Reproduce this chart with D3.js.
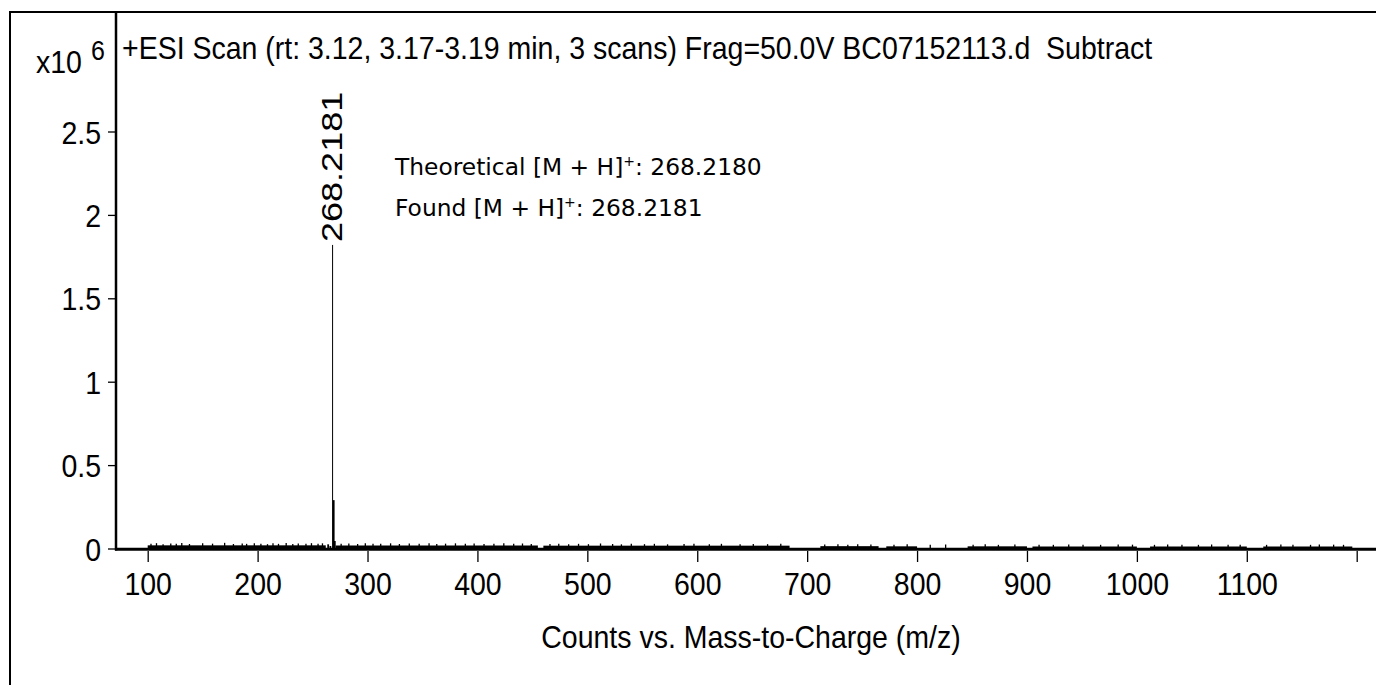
<!DOCTYPE html>
<html>
<head>
<meta charset="utf-8">
<script src="https://cdn.jsdelivr.net/npm/d3@7"></script>
<style>
html,body{margin:0;padding:0;background:#fff;}
svg{display:block;}
</style>
</head>
<body>
<svg id="chart" width="1376" height="685"></svg>
<script>
// ---------------- data ----------------
const titleText = "+ESI Scan (rt: 3.12, 3.17-3.19 min, 3 scans) Frag=50.0V BC07152113.d  Subtract";
const xAxisTitle = "Counts vs. Mass-to-Charge (m/z)";
const yScaleLabel = "x10";
const yScaleExp = "6";
const xTicks = [100, 200, 300, 400, 500, 600, 700, 800, 900, 1000, 1100, 1200];
const yTicks = [0, 0.5, 1, 1.5, 2, 2.5];
// main peaks: m/z, counts (x10^6)
const peakMz = [264.2, 266.2, 268.2181, 269.2215, 270.2248];
const peakInt = [0.025, 0.015, 1.82, 0.29, 0.045];
const peakLabel = "268.2181";
const annotLines = [
  {pre: "Theoretical [M + H]", post: ": 268.2180"},
  {pre: "Found [M + H]", post: ": 268.2181"}
];
// noise floor bands: start m/z, end m/z, level (x10^6)
const noiseBandStart = [100, 271, 460, 712, 772, 846, 905, 1012, 1115];
const noiseBandEnd   = [262, 455, 684, 765, 800, 900, 1000, 1100, 1196];
const noiseBandLevel = [0.019, 0.018, 0.017, 0.014, 0.013, 0.013, 0.012, 0.012, 0.012];
// noise spikes: m/z, counts (x10^6)
const spikeMz = [103, 108, 114, 121, 126, 131, 138, 150, 159, 170, 178, 186, 190, 197, 203, 209, 214, 219, 226, 232, 237, 244, 249, 255, 259,
  276, 283, 291, 298, 305, 312, 321, 329, 338, 347, 356, 363, 371, 380, 389, 397, 406, 415, 424, 433, 441, 449,
  466, 474, 483, 492, 501, 512, 523, 531, 540, 552, 561, 573, 588, 597, 611, 622, 639, 651, 664, 676,
  716, 728, 737, 746, 758, 779, 791, 812, 826, 851, 862, 874, 889, 911, 924, 938, 951, 967, 983, 996,
  1016, 1028, 1041, 1056, 1068, 1083, 1094, 1118, 1131, 1142, 1158, 1166, 1179, 1188];
const spikeInt = [0.028, 0.032, 0.026, 0.03, 0.028, 0.033, 0.027, 0.031, 0.029, 0.034, 0.027, 0.03, 0.028, 0.032, 0.029, 0.026, 0.031, 0.028, 0.033, 0.027, 0.03, 0.028, 0.032, 0.029, 0.031,
  0.028, 0.03, 0.027, 0.032, 0.028, 0.029, 0.031, 0.027, 0.03, 0.028, 0.032, 0.027, 0.029, 0.031, 0.028, 0.03, 0.027, 0.029, 0.032, 0.028, 0.03, 0.027,
  0.027, 0.029, 0.025, 0.028, 0.026, 0.03, 0.027, 0.025, 0.029, 0.026, 0.028, 0.025, 0.027, 0.029, 0.026, 0.028, 0.025, 0.027, 0.026, 0.028,
  0.024, 0.026, 0.023, 0.025, 0.024, 0.023, 0.025, 0.022, 0.024, 0.023, 0.025, 0.022, 0.024, 0.023, 0.022, 0.024, 0.023, 0.022, 0.024, 0.023,
  0.022, 0.024, 0.023, 0.022, 0.024, 0.022, 0.023, 0.022, 0.024, 0.023, 0.022, 0.024, 0.023, 0.022];

// ---------------- layout ----------------
const W = 1376, H = 685;
const plotLeft = 116, plotTop = 12, plotRight = 1380;
const y0 = 548.5, yTop = 131.5;           // pixel of 0 and 2.5
const xA = 147.7, xB = 1356.7;            // pixel of 100 and 1200
const SY = 1.13;                           // vertical stretch of the glyphs
const FS = 28.5;
const mainFont = "'Liberation Sans', Arial, Helvetica, sans-serif";
const annFont = "'DejaVu Sans', Verdana, sans-serif";

const svg = d3.select("#chart");
const x = d3.scaleLinear().domain([100, 1200]).range([xA, xB]);
const y = d3.scaleLinear().domain([0, 2.5]).range([y0, yTop]);

// outer frame
svg.append("rect").attr("x", 10).attr("y", 12).attr("width", W + 20).attr("height", H + 20)
  .attr("fill", "none").attr("stroke", "#000").attr("stroke-width", 2);

// noise bands
const bands = noiseBandStart.map((s, i) => ({s, e: noiseBandEnd[i], v: noiseBandLevel[i]}));
svg.append("g").selectAll("rect").data(bands).join("rect")
  .attr("x", d => x(d.s)).attr("width", d => x(d.e) - x(d.s))
  .attr("y", d => y(d.v)).attr("height", d => y(0) - y(d.v))
  .attr("fill", "#000");

// noise spikes
const spikes = spikeMz.map((m, i) => ({m, v: spikeInt[i]}));
svg.append("g").selectAll("line").data(spikes).join("line")
  .attr("x1", d => x(d.m)).attr("x2", d => x(d.m))
  .attr("y1", y(0)).attr("y2", d => y(d.v))
  .attr("stroke", "#000").attr("stroke-width", 1.3);

// peaks
const peaks = peakMz.map((m, i) => ({m, v: peakInt[i]}));
svg.append("g").selectAll("line").data(peaks).join("line")
  .attr("x1", d => x(d.m)).attr("x2", d => x(d.m))
  .attr("y1", y(0)).attr("y2", d => y(d.v))
  .attr("stroke", "#000").attr("stroke-width", d => d.v > 1 ? 1 : 1.8);

// axes lines
svg.append("line").attr("x1", plotLeft).attr("x2", plotLeft).attr("y1", plotTop).attr("y2", y0 + 2)
  .attr("stroke", "#000").attr("stroke-width", 2.5);
svg.append("line").attr("x1", plotLeft - 1).attr("x2", plotRight).attr("y1", y0 + 0.8).attr("y2", y0 + 0.8)
  .attr("stroke", "#000").attr("stroke-width", 3);

// y axis
const gy = svg.append("g").attr("transform", `translate(${plotLeft - 1},0)`)
  .call(d3.axisLeft(y).tickValues(yTicks).tickSize(7).tickFormat(d3.format("")));
gy.select(".domain").remove();
gy.selectAll(".tick line").attr("stroke", "#000").attr("stroke-width", 1.3);
gy.selectAll(".tick text")
  .attr("x", null).attr("y", null).attr("dy", null)
  .attr("transform", `translate(-14, 11.5) scale(1,${SY})`)
  .attr("text-anchor", "end")
  .style("font-family", mainFont).style("font-size", FS + "px").attr("fill", "#000");

// x axis
const gx = svg.append("g").attr("transform", `translate(0,${y0 + 2.5})`)
  .call(d3.axisBottom(x).tickValues(xTicks).tickSize(11).tickFormat(d => d === 1200 ? "" : String(d)));
gx.select(".domain").remove();
gx.selectAll(".tick line").attr("stroke", "#000").attr("stroke-width", 1.3);
gx.selectAll(".tick text")
  .attr("y", null).attr("dy", null)
  .attr("transform", `translate(0, 44) scale(1,${SY})`)
  .attr("text-anchor", "middle")
  .style("font-family", mainFont).style("font-size", FS + "px").attr("fill", "#000");

// helper for stretched text
function stext(tx, ty, str, size, anchor, font) {
  return svg.append("text")
    .attr("transform", `translate(${tx},${ty}) scale(1,${SY})`)
    .attr("text-anchor", anchor || "start")
    .style("font-family", font || mainFont).style("font-size", size + "px")
    .attr("fill", "#000").text(str);
}

// title
stext(122, 59, titleText, FS).attr("xml:space", "preserve").style("white-space", "pre");
// y scale label
stext(36, 73, yScaleLabel, FS);
stext(91, 60, yScaleExp, 25);
// x axis title
stext(751, 648, xAxisTitle, FS, "middle");

// peak label (rotated)
const mainPeak = peaks[2];
svg.append("text")
  .attr("transform", `translate(${x(mainPeak.m) + 9.5},${y(mainPeak.v) - 3}) scale(1,1.2) rotate(-90)`)
  .style("font-family", mainFont).style("font-size", "30px").attr("fill", "#000")
  .text(peakLabel);

// annotation
const annY = [175, 216];
const annTargetW = 367;
const annNodes = annotLines.map((d, i) => {
  const t = svg.append("text")
    .style("font-family", annFont).style("font-size", "20px").attr("fill", "#000");
  t.append("tspan").text(d.pre);
  t.append("tspan").attr("dy", -8).style("font-size", "12px").text("+");
  t.append("tspan").attr("dy", 8).text(d.post);
  return t;
});
const w0 = annNodes[0].node().getComputedTextLength();
const sx = w0 > 0 ? annTargetW / w0 : 1;
annNodes.forEach((t, i) => t.attr("transform", `translate(395,${annY[i]}) scale(${sx},1.12)`));
</script>
</body>
</html>
